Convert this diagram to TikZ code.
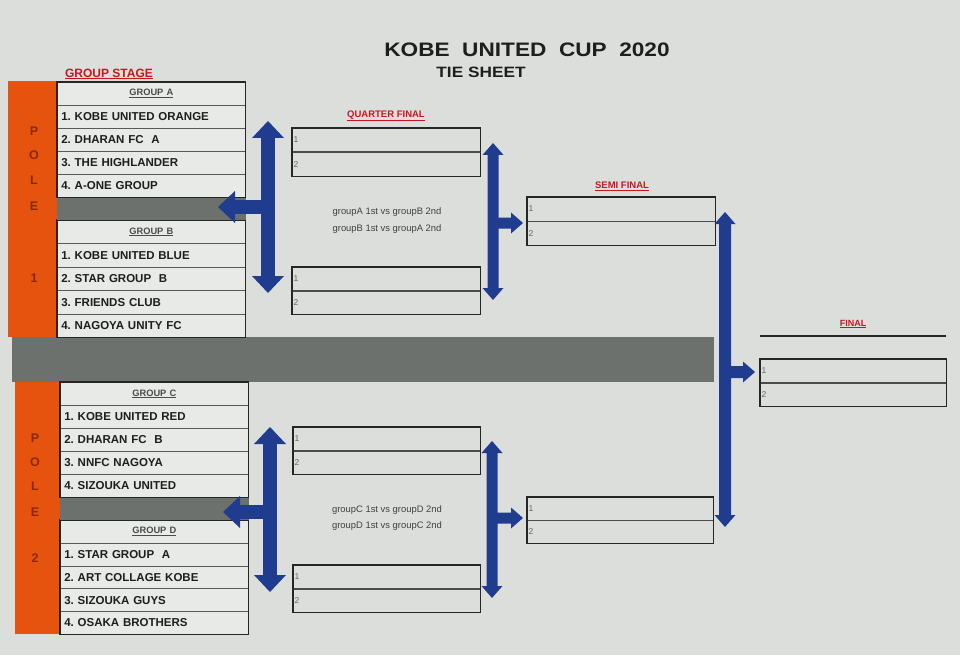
\documentclass[tikz,border=0pt]{standalone}
\usepackage{fontspec}
\setmainfont{Liberation Sans}
\frenchspacing
\definecolor{bg}{HTML}{DCDEDC}
\definecolor{cellc}{HTML}{E8EAE8}
\definecolor{orangec}{HTML}{E5530F}
\definecolor{polec}{HTML}{8A2A05}
\definecolor{bandc}{HTML}{6C716D}
\definecolor{bluec}{HTML}{1F3C8E}
\definecolor{redc}{HTML}{C8161D}
\definecolor{txt}{HTML}{1E1E1E}
\tikzset{
  teamcell/.style={draw=gray!70!black, line width=0.6, fill=cellc, anchor=north west,
    inner xsep=4, inner ysep=0, text width=180, align=left, text=txt,
    font=\fontsize{11.5}{13}\selectfont\bfseries},
  hdr/.style={teamcell, align=center, text=txt!80,
    font=\fontsize{9.3}{10}\selectfont\bfseries},
  outer/.style={draw=black!85, line width=1.2},
  slot/.style={draw=gray!60!black, line width=0.6, anchor=north west, inner sep=0},
  num/.style={anchor=west, inner sep=1.5, text=black!60, font=\fontsize{8.5}{9}\selectfont},
  poletxt/.style={text=polec, font=\fontsize{12.5}{14}\selectfont\bfseries, inner sep=0},
  redlbl/.style={text=redc, font=\bfseries, inner sep=0},
  vstxt/.style={text=black!75, font=\fontsize{9.4}{10}\selectfont, inner sep=0},
}
\newcommand\mygroup[6]{%
  \node[hdr, minimum height=#4] (#1h) at (#2,#3) {\underline{#5}};
  \foreach \t [count=\i] in {#6} {
    \node[teamcell, minimum height=#4] (#1\i) at (#2,{#3+\i*#4}) {\t};
  }
  \draw[outer] (#1h.north west) rectangle (#14.south east);
}
\newcommand\matchbox[5]{%
  \node[slot, minimum width=#4, minimum height=#5] (#1a) at (#2,#3) {};
  \node[slot, minimum width=#4, minimum height=#5] (#1b) at (#1a.south west) {};
  \node[num] (#1an) at (#1a.west) {1};
  \node[num] (#1bn) at (#1b.west) {2};
  \draw[outer] (#1a.north west) rectangle (#1b.south east);
}
% c,t,b,m,e,s,H,L : branch to the left
\newcommand\blueTL[8]{%
\fill[bluec] (#1,#2) -- ({#1+#7},{#2+#8}) -- ({#1+#6},{#2+#8}) -- ({#1+#6},{#3-#8}) -- ({#1+#7},{#3-#8}) -- (#1,#3) -- ({#1-#7},{#3-#8}) -- ({#1-#6},{#3-#8}) -- ({#1-#6},{#4+#6}) -- ({#5+#8},{#4+#6}) -- ({#5+#8},{#4+#7}) -- (#5,#4) -- ({#5+#8},{#4-#7}) -- ({#5+#8},{#4-#6}) -- ({#1-#6},{#4-#6}) -- ({#1-#6},{#2+#8}) -- ({#1-#7},{#2+#8}) -- cycle;}
% branch to the right
\newcommand\blueTR[8]{%
\fill[bluec] (#1,#2) -- ({#1+#7},{#2+#8}) -- ({#1+#6},{#2+#8}) -- ({#1+#6},{#4-#6}) -- ({#5-#8},{#4-#6}) -- ({#5-#8},{#4-#7}) -- (#5,#4) -- ({#5-#8},{#4+#7}) -- ({#5-#8},{#4+#6}) -- ({#1+#6},{#4+#6}) -- ({#1+#6},{#3-#8}) -- ({#1+#7},{#3-#8}) -- (#1,#3) -- ({#1-#7},{#3-#8}) -- ({#1-#6},{#3-#8}) -- ({#1-#6},{#2+#8}) -- ({#1-#7},{#2+#8}) -- cycle;}
\begin{document}
\begin{tikzpicture}[x=1pt,y=-1pt]
\useasboundingbox (0,0) rectangle (960,655);
\fill[bg] (0,0) rectangle (960,655);
% bands and poles
\fill[bandc] (12,337) rectangle (714,382);
\fill[orangec] (8,81) rectangle (57,337);
\fill[orangec] (15,382) rectangle (61,634);
% titles
\node[inner sep=0, font=\fontsize{19.5}{22}\selectfont\bfseries, text=txt] (title) at (527,50) {\scalebox{1.16}[1]{KOBE\ \ UNITED\ \ CUP\ \ 2020}};
\node[inner sep=0, font=\fontsize{15}{17}\selectfont\bfseries, text=txt] (sub) at (481,72) {\scalebox{1.15}[1]{TIE SHEET}};
\node[redlbl, font=\fontsize{12}{14}\selectfont\bfseries] (gs) at (109,74) {\underline{GROUP STAGE}};
\node[redlbl, font=\fontsize{9.5}{11}\selectfont\bfseries] (qf) at (386,116) {\underline{QUARTER FINAL}};
\node[redlbl, font=\fontsize{9.5}{11}\selectfont\bfseries] (sf) at (622,186) {\underline{SEMI FINAL}};
\node[redlbl, font=\fontsize{9}{11}\selectfont\bfseries] (fn) at (853,324) {\underline{FINAL}};
% groups
\mygroup{a}{57}{82}{23}{GROUP A}{1. KOBE UNITED ORANGE,2. DHARAN FC\ \ A,3. THE HIGHLANDER,4. A-ONE GROUP}
\mygroup{b}{57}{220}{23.4}{GROUP B}{1. KOBE UNITED BLUE,2. STAR GROUP\ \ B,3. FRIENDS CLUB,4. NAGOYA UNITY FC}
\mygroup{c}{60}{382}{23}{GROUP C}{1. KOBE UNITED RED,2. DHARAN FC\ \ B,3. NNFC NAGOYA,4. SIZOUKA UNITED}
\mygroup{d}{60}{520}{22.8}{GROUP D}{1. STAR GROUP\ \ A,2. ART COLLAGE KOBE,3. SIZOUKA GUYS,4. OSAKA BROTHERS}
\fill[bandc] (a4.south west) rectangle (bh.north east);
\fill[bandc] (c4.south west) rectangle (dh.north east);
% pole letters
\foreach \l/\y [count=\k] in {P/131,O/155,L/180,E/206,1/278}
  \node[poletxt] (p1\k) at (34,\y) {\l};
\foreach \l/\y [count=\k] in {P/438,O/462,L/486,E/512,2/558}
  \node[poletxt] (p2\k) at (35,\y) {\l};
% quarter-final boxes
\matchbox{q1}{292}{128}{188}{23.5}
\matchbox{q2}{292}{267}{188}{23}
\matchbox{q3}{293}{427}{187}{23}
\matchbox{q4}{293}{565}{187}{23}
\node[vstxt] (vs1) at (387,212) {groupA 1st vs groupB 2nd};
\node[vstxt] (vs2) at (387,229) {groupB 1st vs groupA 2nd};
\node[vstxt] (vs3) at (387,510) {groupC 1st vs groupD 2nd};
\node[vstxt] (vs4) at (387,526) {groupD 1st vs groupC 2nd};
% semi-final boxes
\matchbox{s1}{527}{197}{188}{23.5}
\matchbox{s2}{527}{497}{186}{22.5}
% final
\coordinate (fl1) at (760,336);
\coordinate (fl2) at (946,336);
\draw[outer] (fl1) -- (fl2);
\matchbox{f}{760}{359}{186}{23}
% blue arrows
\blueTL{268}{121}{293}{207}{218}{6.8}{16}{17}
\blueTL{270}{427}{592}{512}{223}{6.8}{16}{17}
\blueTR{493}{143}{300}{223}{523}{5.5}{10.5}{12}
\blueTR{492}{441}{598}{518}{523}{5.5}{10.5}{12}
\blueTR{725}{212}{527}{372}{755}{6}{10.5}{12}
\end{tikzpicture}
\end{document}
